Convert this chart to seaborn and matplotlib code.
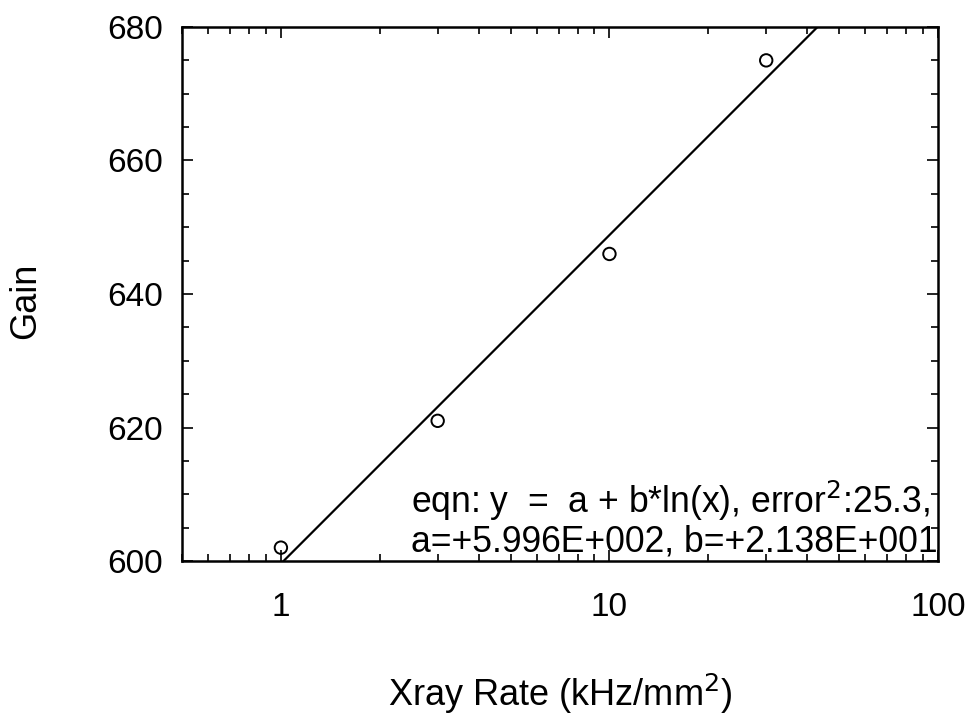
import numpy as np
import pandas as pd
import matplotlib
matplotlib.use("Agg")
import matplotlib.pyplot as plt
import seaborn as sns
from matplotlib.ticker import LogLocator, FixedLocator, NullFormatter, MultipleLocator

# Data
rate = [1, 3, 10, 30]
gain = [602, 621, 646, 675]
fit_a = 599.6
fit_b = 21.38
x_ticks = [1, 10, 100]
x_ticklabels = ["1", "10", "100"]
y_ticks = [600, 620, 640, 660, 680]
eqn_line1 = "eqn: y  =  a + b*ln(x), error$^2$:25.3,"
eqn_line2 = "a=+5.996E+002, b=+2.138E+001"

sns.set_theme(style="white")
plt.rcParams['font.family'] = ['Liberation Sans', 'DejaVu Sans']
plt.rcParams['text.color'] = 'black'
plt.rcParams['axes.labelcolor'] = 'black'
plt.rcParams['xtick.color'] = 'black'
plt.rcParams['ytick.color'] = 'black'

fig = plt.figure(figsize=(9.68, 7.17), dpi=100)
ax = fig.add_axes([182/968, 1-561/717, 756/968, 534/717])

pts = pd.DataFrame({"rate": rate, "gain": gain})
xs = np.logspace(np.log10(1.0), np.log10(100), 200)
fit = pd.DataFrame({"rate": xs, "gain": fit_a + fit_b*np.log(xs)})

sns.lineplot(data=fit, x="rate", y="gain", ax=ax, color="black", linewidth=1.6)
sns.scatterplot(data=pts, x="rate", y="gain", ax=ax, marker="o", s=80,
                facecolor="none", edgecolor="black", linewidth=1.4, zorder=3)

ax.set_xscale("log")
ax.set_xlim(0.5, 100)
ax.set_ylim(600, 680)

ax.xaxis.set_major_locator(FixedLocator(x_ticks))
ax.set_xticklabels(x_ticklabels)
ax.xaxis.set_minor_locator(LogLocator(base=10, subs=np.arange(2, 10)))
ax.xaxis.set_minor_formatter(NullFormatter())
ax.yaxis.set_major_locator(FixedLocator(y_ticks))
ax.yaxis.set_minor_locator(MultipleLocator(5))

ax.tick_params(which="both", direction="in", top=True, right=True, bottom=True, left=True,
               color="black", labelcolor="black", width=1.2)
ax.tick_params(which="major", length=8, labelsize=24)
ax.tick_params(which="minor", length=5)
ax.tick_params(axis="x", which="major", pad=22)
ax.tick_params(axis="y", which="major", pad=14)

for sp in ax.spines.values():
    sp.set_color("black")
    sp.set_linewidth(1.8)

ax.set_xlabel("Xray Rate (kHz/mm$^2$)", fontsize=26, color="black")
ax.set_ylabel("Gain", fontsize=26, color="black")
ax.xaxis.set_label_coords(0.5, -0.208)
ax.yaxis.set_label_coords(-0.184, 0.487)

ax.text(0.303, 0.090, eqn_line1, transform=ax.transAxes, fontsize=25.6,
        ha="left", va="baseline", color="black")
ax.text(0.303, 0.017, eqn_line2, transform=ax.transAxes, fontsize=25.6,
        ha="left", va="baseline", color="black")

fig.savefig("out.png", dpi=100, facecolor="white")
